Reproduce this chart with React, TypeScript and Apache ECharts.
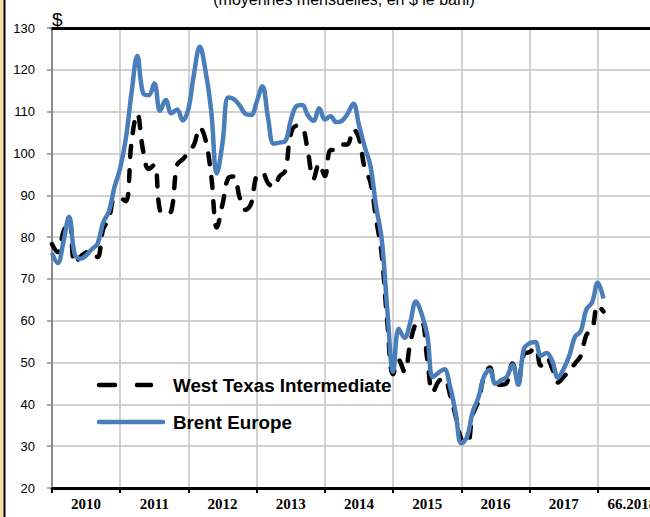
import React, { useEffect, useRef } from 'react';
import * as echarts from 'echarts';

const yearLabels = ['2010', '2011', '2012', '2013', '2014', '2015', '2016', '2017', '66.2018'];

// Monthly averages, Jan 2010 - Feb 2018 ($ per barrel)
const brent = [
  76.2, 73.8, 78.8, 84.8, 75.9, 74.8, 75.6, 77.1, 78.4, 83.5, 86.1, 92.0,
  96.5, 103.7, 114.6, 123.3, 114.5, 113.9, 116.7, 110.2, 112.8, 109.6, 110.5, 107.9,
  110.7, 119.3, 125.5, 119.8, 110.3, 95.2, 102.6, 113.4, 113.0, 111.5, 109.5, 109.2,
  112.3, 116.1, 108.5, 102.3, 102.6, 102.9, 107.9, 111.3, 111.6, 109.1, 107.8, 110.8,
  108.1, 108.9, 107.5, 107.8, 109.5, 111.9, 106.8, 101.6, 97.1, 87.4, 79.4, 62.3,
  47.8, 58.1, 55.9, 59.5, 64.6, 61.7, 56.6, 46.5, 47.6, 48.4, 44.3, 38.0,
  30.7, 32.2, 38.2, 41.6, 46.7, 48.3, 44.9, 45.8, 46.6, 49.5, 44.7, 53.3,
  54.6, 54.9, 51.6, 52.3, 50.3, 46.4, 48.5, 51.7, 56.2, 57.5, 62.7, 64.4,
  69.1, 65.3,
];

const wti = [
  78.3, 76.4, 81.2, 84.3, 73.7, 75.3, 76.3, 76.6, 75.2, 81.9, 84.3, 89.2,
  89.2, 88.6, 102.9, 109.5, 100.9, 96.3, 97.3, 86.3, 85.5, 86.3, 97.2, 98.6,
  100.3, 102.2, 106.2, 103.3, 94.7, 82.3, 87.9, 94.1, 94.5, 89.5, 86.5, 87.9,
  94.8, 95.3, 92.9, 92.0, 94.5, 95.8, 104.6, 106.6, 106.3, 100.5, 93.9, 97.6,
  94.6, 100.8, 100.8, 102.1, 102.2, 105.8, 103.6, 96.5, 93.2, 84.4, 75.8, 59.3,
  47.2, 50.6, 47.8, 54.5, 59.3, 59.8, 50.9, 42.9, 45.5, 46.2, 42.4, 37.2,
  31.7, 30.3, 37.5, 40.8, 46.7, 48.8, 44.7, 44.7, 45.2, 49.8, 45.7, 52.0,
  52.5, 53.5, 49.3, 51.1, 48.5, 45.2, 46.6, 48.0, 49.8, 51.6, 56.6, 57.9,
  63.7, 62.2,
];

const seriesNames = ['West Texas Intermediate', 'Brent Europe'];
const titleText = '(moyennes mensuelles, en $ le baril)';
const yMin = 20;
const yMax = 130;
const yStep = 10;

export default function App() {
  const ref = useRef<HTMLDivElement>(null);

  useEffect(() => {
    if (!ref.current) return;
    const chart = echarts.init(ref.current, null, { renderer: 'svg' });
    const toPts = (arr: number[]) => arr.map((v, i) => [i, v]);
    const BLUE = '#4A7EBB';
    const GRIDC = '#C3C3C3';
    const legendFont = 'bold 18.8px "Liberation Sans", Arial, sans-serif';

    chart.setOption({
      animation: false,
      backgroundColor: '#fff',
      grid: { left: 52, top: 28, width: 614, height: 460, containLabel: false },
      xAxis: [
        {
          type: 'category',
          data: yearLabels,
          boundaryGap: true,
          position: 'bottom',
          axisLine: { show: true, lineStyle: { color: '#000', width: 3 } },
          axisTick: { show: true, length: 5, interval: 0, lineStyle: { color: '#000', width: 2 } },
          axisLabel: {
            interval: 0,
            margin: 8,
            fontFamily: 'Liberation Serif',
            fontWeight: 'bold',
            fontSize: 15,
            color: '#000',
          },
          splitLine: { show: true, interval: 0, lineStyle: { color: GRIDC, width: 1.5 } },
        },
        {
          type: 'value',
          min: 0,
          max: 108,
          position: 'top',
          axisLine: { show: true, onZero: false, lineStyle: { color: '#000', width: 3 } },
          axisTick: { show: false },
          axisLabel: { show: false },
          splitLine: { show: false },
        },
      ],
      yAxis: {
        type: 'value',
        min: yMin,
        max: yMax,
        interval: yStep,
        axisLine: { show: true, lineStyle: { color: '#8A8A8A', width: 2 } },
        axisTick: { show: true, length: 5, lineStyle: { color: '#8A8A8A', width: 1.5 } },
        axisLabel: { margin: 17, fontFamily: 'Liberation Sans', fontSize: 13, color: '#000' },
        splitLine: { show: true, lineStyle: { color: GRIDC, width: 1.5 } },
      },
      series: [
        {
          type: 'line',
          name: seriesNames[0],
          xAxisIndex: 1,
          data: toPts(wti),
          smooth: 0.4,
          symbol: 'none',
          showSymbol: false,
          lineStyle: { color: '#000', width: 4.5, type: [11, 13], cap: 'round' },
          itemStyle: { color: '#000' },
          z: 3,
        },
        {
          type: 'line',
          name: seriesNames[1],
          xAxisIndex: 1,
          data: toPts(brent),
          smooth: 0.4,
          symbol: 'none',
          showSymbol: false,
          lineStyle: { color: BLUE, width: 4.5 },
          itemStyle: { color: BLUE },
          z: 4,
        },
      ],
      graphic: [
        { type: 'rect', shape: { x: 0, y: 0, width: 4, height: 517 }, style: { fill: '#F6DCA6' }, silent: true },
        { type: 'line', shape: { x1: 4.5, y1: 0, x2: 4.5, y2: 517 }, style: { stroke: '#000', lineWidth: 2 }, silent: true },
        {
          type: 'text',
          style: {
            text: titleText, x: 344, y: 7, font: '16px "Liberation Sans", Arial, sans-serif', fill: '#000',
            align: 'center', textAlign: 'center', verticalAlign: 'bottom', textVerticalAlign: 'bottom',
          },
        },
        {
          type: 'text',
          style: {
            text: '$', x: 52, y: 29, font: '19px "Liberation Sans", Arial, sans-serif', fill: '#000',
            align: 'left', textAlign: 'left', verticalAlign: 'bottom', textVerticalAlign: 'bottom',
          },
        },
        { type: 'line', shape: { x1: 99, y1: 385, x2: 115, y2: 385 }, style: { stroke: '#000', lineWidth: 4.5, lineCap: 'round' }, z: 10 },
        { type: 'line', shape: { x1: 137, y1: 385, x2: 151, y2: 385 }, style: { stroke: '#000', lineWidth: 4.5, lineCap: 'round' }, z: 10 },
        { type: 'line', shape: { x1: 99, y1: 422, x2: 163, y2: 422 }, style: { stroke: BLUE, lineWidth: 4.5, lineCap: 'round' }, z: 10 },
        {
          type: 'text', z: 10,
          style: {
            text: seriesNames[0], x: 173, y: 385, font: legendFont, fill: '#000',
            align: 'left', textAlign: 'left', verticalAlign: 'middle', textVerticalAlign: 'middle',
          },
        },
        {
          type: 'text', z: 10,
          style: {
            text: seriesNames[1], x: 173, y: 422, font: legendFont, fill: '#000',
            align: 'left', textAlign: 'left', verticalAlign: 'middle', textVerticalAlign: 'middle',
          },
        },
      ],
    });

    return () => chart.dispose();
  }, []);

  return <div ref={ref} style={{ position: 'fixed', left: 0, top: 0, width: 670, height: 517 }} />;
}
